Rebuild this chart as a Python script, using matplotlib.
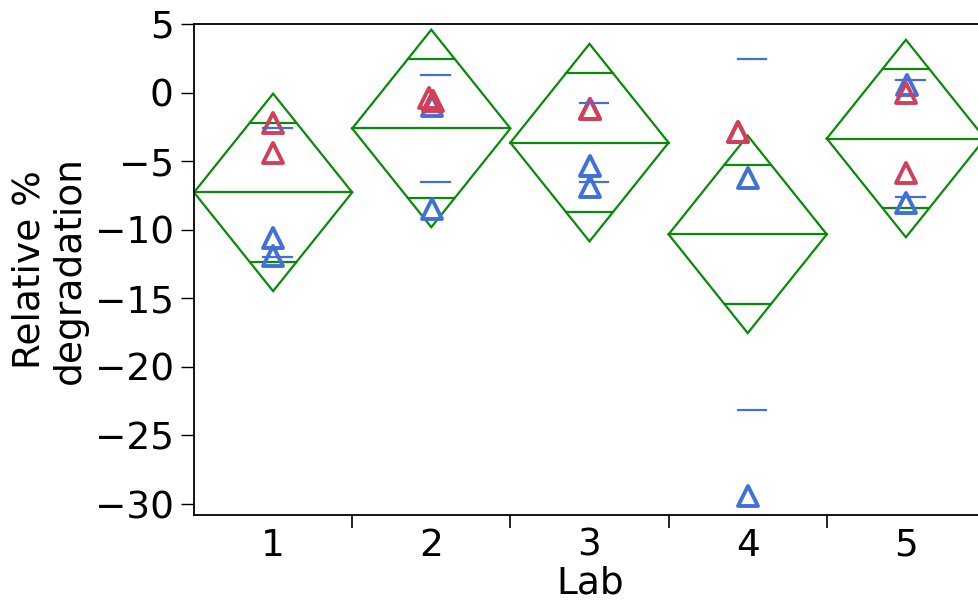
import numpy as np
import matplotlib
matplotlib.use("Agg")
import matplotlib.pyplot as plt
from matplotlib.markers import MarkerStyle

# ---- data ----
labs = [1, 2, 3, 4, 5]
lab_labels = ["1", "2", "3", "4", "5"]
red_vals = [[-2.23, -4.38], [-0.37, -0.60], [-1.20, -1.20], [-2.85, -2.85], [0.00, -5.90]]
blue_vals = [[-10.60, -11.90], [-1.00, -8.50], [-5.33, -6.87], [-6.25, -29.40], [0.53, -8.03]]
# small horizontal jitter of the points (category units)
red_dx = [[0.0, 0.0], [-0.017, 0.008], [0.0, 0.0], [-0.063, -0.063], [0.0, 0.0]]
blue_dx = [[0.0, 0.0], [0.004, 0.004], [0.0, 0.0], [0.0, 0.0], [0.01, 0.0]]
yticks = [5, 0, -5, -10, -15, -20, -25, -30]
t_crit = 2.1314  # t(0.975, df=15)

RED = "#d23f5b"
BLUE = "#4170d6"
GREEN = "#0a8a0a"

plt.rcParams["font.family"] = ["DejaVu Sans"]
fig = plt.figure(figsize=(9.79, 6.05), dpi=100)
ax = fig.add_axes([194 / 979, 90 / 605, 791 / 979, 491 / 605])

# statistics per lab
groups = [np.array(r + b) for r, b in zip(red_vals, blue_vals)]
means = [g.mean() for g in groups]
sds = [g.std(ddof=1) for g in groups]
n = len(groups[0])
pooled = np.sqrt(np.mean([s ** 2 for s in sds]))
half = t_crit * pooled / np.sqrt(n)

for x, m, s in zip(labs, means, sds):
    # means diamond
    ax.plot([x - 0.5, x, x + 0.5, x, x - 0.5], [m, m + half, m, m - half, m],
            color=GREEN, lw=1.6, zorder=2, solid_joinstyle="miter")
    ax.plot([x - 0.5, x + 0.5], [m, m], color=GREEN, lw=1.6, zorder=2)
    # overlap marks
    d = half / np.sqrt(2)
    w = 0.5 * (1 - 1 / np.sqrt(2))
    for yy in (m + d, m - d):
        ax.plot([x - w, x + w], [yy, yy], color=GREEN, lw=1.6, zorder=2)
    # std dev lines
    for yy in (m + s, m - s):
        ax.plot([x - 0.063, x + 0.118], [yy, yy], color=BLUE, lw=1.6, zorder=5)

tri = MarkerStyle("^", joinstyle="round")
for x, vals, dxs in zip(labs, blue_vals, blue_dx):
    ax.plot([x + d for d in dxs], vals, linestyle="none", marker=tri, ms=15,
            mfc="none", mec=BLUE, mew=2.8, zorder=3)
for x, vals, dxs in zip(labs, red_vals, red_dx):
    ax.plot([x + d for d in dxs], vals, linestyle="none", marker=tri, ms=15,
            mfc="none", mec=RED, mew=2.8, zorder=4)

ax.set_xlim(0.5, 5.5)
ax.set_ylim(-30.8, 5)
ax.set_yticks(yticks)
ax.set_yticklabels([("\u2212" + str(-v)) if v < 0 else str(v) for v in yticks])
ax.set_xticks(labs)
ax.set_xticklabels(lab_labels)
ax.set_xticks([1.5, 2.5, 3.5, 4.5], minor=True)
ax.tick_params(axis="x", which="major", length=0, pad=9, labelsize=27)
ax.tick_params(axis="x", which="minor", length=9.5, width=1.2, direction="out")
ax.tick_params(axis="y", which="major", length=9.5, width=1.0, pad=5, labelsize=27)
for sp in ax.spines.values():
    sp.set_linewidth(1.3)

fig.text(50 / 979, 1 - 270 / 605, "Relative %\ndegradation", rotation=90,
         ha="center", va="center", multialignment="center", fontsize=27,
         linespacing=1.15)
fig.text(590 / 979, 1 - 584 / 605, "Lab", ha="center", va="center", fontsize=27)

fig.savefig("out.png", dpi=100)
